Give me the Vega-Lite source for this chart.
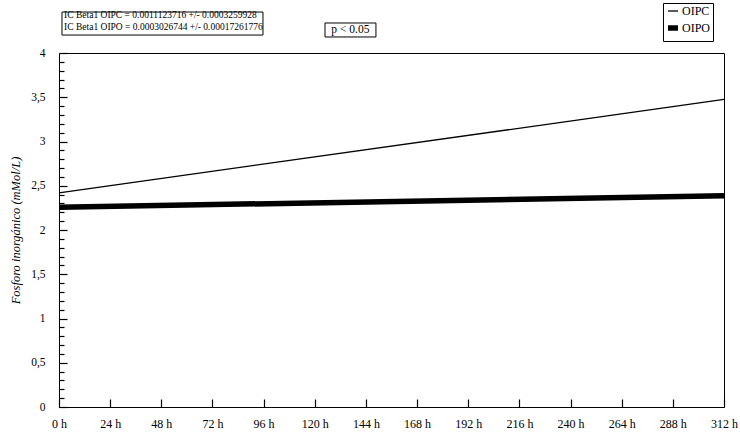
{
  "$schema": "https://vega.github.io/schema/vega-lite/v6.json",
  "autosize": {"type": "none"},
  "width": 665,
  "height": 354,
  "padding": {"left": 59, "top": 53, "right": 16, "bottom": 31},
  "background": "white",
  "config": {
    "view": {"stroke": "black", "strokeWidth": 1},
    "font": "Liberation Serif",
    "axis": {"grid": false, "ticks": true, "tickWidth": 1.2, "tickOpacity": 1, "zindex": 1, "domainColor": "black", "tickColor": "black", "labelColor": "black", "titleColor": "black", "labelFont": "Liberation Serif", "titleFont": "Liberation Serif"}
  },
  "datasets": {
    "lines": [
      {"hora": 0, "valor": 2.42, "serie": "OIPC"},
      {"hora": 312, "valor": 3.475, "serie": "OIPC"},
      {"hora": 0, "valor": 2.257, "serie": "OIPO"},
      {"hora": 312, "valor": 2.387, "serie": "OIPO"}
    ],
    "notes": [
      {"hora": 2.4, "valor": 4.424, "texto": "IC Beta1 OIPC = 0.0011123716 +/- 0.0003259928"},
      {"hora": 2.4, "valor": 4.294, "texto": "IC Beta1 OIPO = 0.0003026744 +/- 0.00017261776"}
    ],
    "boxes": [
      {"x1": 1.4, "x2": 95.7, "y1": 4.203, "y2": 4.463},
      {"x1": 124.8, "x2": 148.7, "y1": 4.181, "y2": 4.339}
    ],
    "pval": [
      {"hora": 136.7, "valor": 4.255, "texto": "p < 0.05"}
    ]
  },
  "layer": [
    {
      "data": {"name": "lines"},
      "mark": {"type": "line", "color": "black", "clip": false},
      "encoding": {
        "x": {
          "field": "hora", "type": "quantitative",
          "scale": {"domain": [0, 312], "nice": false, "zero": false},
          "axis": {"values": [0, 24, 48, 72, 96, 120, 144, 168, 192, 216, 240, 264, 288, 312], "labelExpr": "datum.value + ' h'", "offset": -8, "tickSize": 8, "domain": false, "labelPadding": 11, "labelFontSize": 12, "title": null, "labelFlush": false, "labelOverlap": false}
        },
        "y": {
          "field": "valor", "type": "quantitative",
          "scale": {"domain": [0, 4], "nice": false},
          "axis": {"values": [0, 0.5, 1, 1.5, 2, 2.5, 3, 3.5, 4], "labelExpr": "replace(format(datum.value, ''), '.', ',')", "offset": -8, "tickSize": 8, "domain": false, "labelPadding": 14, "labelFontSize": 11.5, "title": "Fosforo inorgánico (mMol/L)", "titleFontStyle": "italic", "titleFontWeight": "normal", "titleFontSize": 12.5, "titlePadding": 8, "labelFlush": false, "labelOverlap": false}
        },
        "detail": {"field": "serie"},
        "strokeWidth": {
          "field": "serie", "type": "nominal",
          "scale": {"domain": ["OIPC", "OIPO"], "range": [1.3, 5.5]},
          "legend": {"orient": "none", "legendX": 604, "legendY": -50, "title": null, "symbolType": "stroke", "symbolStrokeColor": "black", "symbolSize": 100, "labelFontSize": 12, "labelFont": "Liberation Serif", "strokeColor": "black", "fillColor": "white", "padding": 2, "rowPadding": 0, "labelOffset": 1, "symbolOffset": 0}
        }
      }
    },
    {
      "data": {"name": "lines"},
      "mark": {"type": "rule", "opacity": 0},
      "encoding": {
        "y": {
          "field": "valor", "type": "quantitative",
          "axis": {"values": [0.1, 0.2, 0.3, 0.4, 0.6, 0.7, 0.8, 0.9, 1.1, 1.2, 1.3, 1.4, 1.6, 1.7, 1.8, 1.9, 2.1, 2.2, 2.3, 2.4, 2.6, 2.7, 2.8, 2.9, 3.1, 3.2, 3.3, 3.4, 3.6, 3.7, 3.8, 3.9], "orient": "left", "offset": -5, "tickSize": 5, "labels": false, "domain": false, "title": null}
        }
      }
    },
    {
      "data": {"name": "boxes"},
      "mark": {"type": "rect", "fill": "white", "stroke": "black", "strokeWidth": 1, "clip": false},
      "encoding": {
        "x": {"field": "x1", "type": "quantitative"},
        "x2": {"field": "x2"},
        "y": {"field": "y1", "type": "quantitative", "axis": null},
        "y2": {"field": "y2"}
      }
    },
    {
      "data": {"name": "notes"},
      "mark": {"type": "text", "align": "left", "baseline": "middle", "fontSize": 9.5, "font": "Liberation Serif", "color": "black", "clip": false},
      "encoding": {
        "x": {"field": "hora", "type": "quantitative"},
        "y": {"field": "valor", "type": "quantitative", "axis": null},
        "text": {"field": "texto"}
      }
    },
    {
      "data": {"name": "pval"},
      "mark": {"type": "text", "align": "center", "baseline": "middle", "fontSize": 11.5, "font": "Liberation Serif", "color": "black", "clip": false},
      "encoding": {
        "x": {"field": "hora", "type": "quantitative"},
        "y": {"field": "valor", "type": "quantitative", "axis": null},
        "text": {"field": "texto"}
      }
    }
  ],
  "resolve": {"axis": {"y": "independent"}}
}
